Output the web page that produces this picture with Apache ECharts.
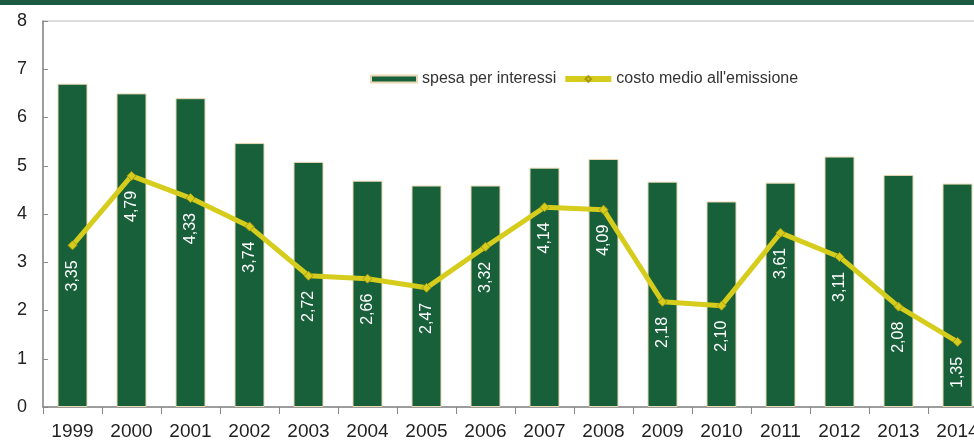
<!DOCTYPE html>
<html>
<head>
<meta charset="utf-8">
<script src="https://cdn.jsdelivr.net/npm/echarts@6/dist/echarts.min.js"></script>
<style>
  html, body { margin: 0; padding: 0; background: #fff; overflow: hidden; width: 974px; height: 441px; }
  #topband { position: absolute; left: 0; top: 0; width: 974px; height: 5px; background: #1d5a44; z-index: 2; }
  #chart { width: 1000px; height: 441px; }
</style>
</head>
<body>
<div id="topband"></div>
<div id="chart"></div>
<script>
const anni = ['1999', '2000', '2001', '2002', '2003', '2004', '2005', '2006', '2007', '2008', '2009', '2010', '2011', '2012', '2013', '2014'];
const spesaInteressi = [6.7, 6.5, 6.4, 5.47, 5.08, 4.69, 4.59, 4.59, 4.96, 5.14, 4.67, 4.26, 4.65, 5.19, 4.81, 4.63];
const costoMedio = [3.35, 4.79, 4.33, 3.74, 2.72, 2.66, 2.47, 3.32, 4.14, 4.09, 2.18, 2.10, 3.61, 3.11, 2.08, 1.35];

// il div è più largo della finestra: il grafico originale è tagliato a destra
const myChart = echarts.init(document.getElementById('chart'), null, {renderer: 'canvas'});
const option = {
  animation: false,
  textStyle: { fontFamily: 'Liberation Sans, Arial, sans-serif' },
  legend: {
    left: 365,
    top: 66,
    itemGap: 6,
    itemWidth: 46,
    itemHeight: 7,
    textStyle: { fontSize: 16, color: '#333' },
    data: [
      { name: 'spesa per interessi', icon: 'rect' },
      { name: "costo medio all'emissione", lineStyle: { width: 6 } }
    ]
  },
  grid: {
    left: 43,
    top: 21,
    width: 944,
    height: 389,
    show: true,
    borderColor: '#bbb',
    borderWidth: 1
  },
  xAxis: {
    type: 'category',
    data: anni,
    axisLine: { lineStyle: { color: '#888', width: 1.5 } },
    axisTick: { show: true, length: 7, lineStyle: { color: '#888' } },
    axisLabel: { color: '#222', fontSize: 19, margin: 15 }
  },
  yAxis: {
    type: 'value',
    min: 0,
    max: 8,
    interval: 1,
    splitLine: { show: false },
    axisLine: { show: true, lineStyle: { color: '#888', width: 1.5 } },
    axisTick: { show: true, inside: true, length: 5, lineStyle: { color: '#888' } },
    axisLabel: { color: '#222', fontSize: 18, margin: 16 }
  },
  series: [
    {
      name: 'spesa per interessi',
      type: 'bar',
      data: spesaInteressi,
      barWidth: 30,
      itemStyle: { color: '#17603a', borderColor: '#e9d9b4', borderWidth: 1 }
    },
    {
      name: "costo medio all'emissione",
      type: 'line',
      data: costoMedio,
      symbol: 'diamond',
      symbolSize: 9,
      lineStyle: { color: '#d6cc1c', width: 5 },
      itemStyle: { color: '#d6cc1c', borderColor: '#a89a10', borderWidth: 1 },
      label: {
        show: true,
        position: 'bottom',
        distance: 10,
        rotate: 90,
        align: 'right',
        verticalAlign: 'middle',
        color: '#fff',
        fontSize: 16,
        formatter: p => p.value.toFixed(2).replace('.', ',')
      }
    }
  ]
};
option && myChart.setOption(option);
</script>
</body>
</html>
